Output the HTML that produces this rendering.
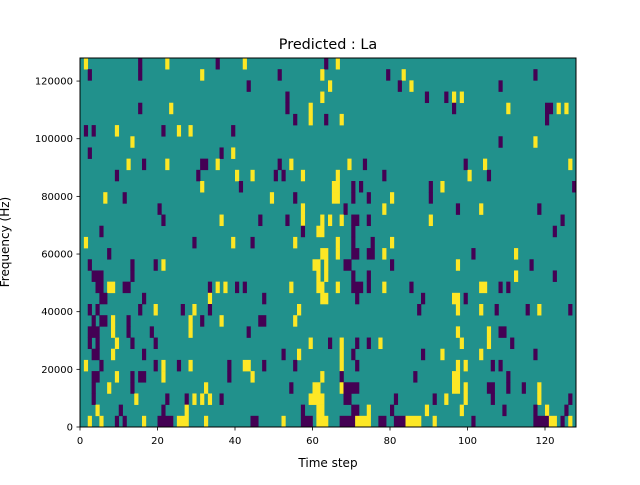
<!DOCTYPE html>
<html><head><meta charset="utf-8"><style>
body{margin:0;background:#fff;}
svg text{font-family:"DejaVu Sans","Liberation Sans",sans-serif;}
</style></head><body>
<svg id="chart" width="640" height="480" xmlns="http://www.w3.org/2000/svg">
<rect width="640" height="480" fill="#fff"/>
<text x="328" y="49" font-size="14.4" text-anchor="middle">Predicted : La</text>
<text x="328" y="467" font-size="12" text-anchor="middle">Time step</text>
<text transform="translate(9,242) rotate(-90)" font-size="12" text-anchor="middle">Frequency (Hz)</text>
<g id="cells"></g>
<g id="axes"></g>
</svg>
<script>
// time steps and frequency axis
const nTime = 128;
const nFreq = 33;
const freqMax = 128000;
const xTicks = [0,20,40,60,80,100,120];
const yTicks = [0,20000,40000,60000,80000,100000,120000];
// cells per frequency row (index 0 = top row). entries: p=purple(low), y=yellow(high), col or colStart-colEnd
const rowCells = [
"y1 p15 y22 p35 y42 p63 y66",
"p2 p15 y31 p51 y62 p79 y83 p117",
"p43 y64 p82 y85 p108",
"p53 y62 p89 p94 y96 y98",
"p15 y23 p53 y59 p96 y110 p120-121 y123 y125",
"p55 y59 p63 y67 p120",
"p1 p3 y9 p21 y25 y28 p39",
"y13 p108 y117",
"p2 p36 y39",
"y12 p16 y22 p31-32 y35 p51 y54 y69 p73 p99 y104 y126",
"p9 p30 y40 y44 p50 p52 y57 y66 p78 y100 p105",
"y31 p41 y65-66 p70 p72 p90 y93 p127",
"y6 p11 y49 p55 y65-66 p70 p74 y80 p90",
"p20 y57 p68 y78 p97 y103 p118",
"p21 y36 p46 p53 y57 y62 y64 y67 p70-71 p74 y90 p124",
"p5 p57 y61-62 p70 p122",
"y1 p29 y39 p44 y55 y66 p70 p75 y80",
"p7 y62-63 y66 p70-71 p74-75 y78 p101 y112",
"p2 p13 p19 y21 y60-61 y63 p68-69 p80 y97 p116",
"p3-5 p13 y61 y63 p70 p74 y112 p122",
"p4-5 y7-8 p11-12 p33 y35 y37 p40 p42 y54 y61-62 y66 p70-72 p74 y78 p85 y103-104 p108 p110",
"p5-6 p16 y33 p47 y62-63 p71 p88 y96-97 p99",
"p2 p4 p15 y19 p26 y29 p33 y56 p87 y97 y103 p107 p115 y118 p126",
"p3 p5-6 y8 p12 y28 p31 y36 p46-47 y55",
"p2-4 y8 p12 p18 y28 p43 y97 y105 p108-109",
"p2 p4 y9 p13 p19 y59 p64 y67 p71 p74 y77 y98 y105 p111",
"p3-4 y8 p16 p52 y56 y67 p70 p88 y93 y103 p117",
"y1 p5 p19 y21 p25 y28 p38 y42-43 p47 p55 y67 p71 y97 y99 p106 p108",
"p3-4 y9 p13 p15-16 y21 p38 y44 y62 p67 p86 y96-97 p110",
"p3 y7 p13 y32 p54 y60-61 y67 p68-71 y96-97 y99 p105-106 p110 p114 y118",
"p3 y14 p22 p27 y29 y31 y33 p36 y59-62 p68-69 p81 p91 y94 y99 p106 y118 p126",
"y4 p10 p21 y27 p57 y61-62 p70-71 y74 p80 y89 y98 p109 p117 y120 p125",
"y2 y5 p9 p11 y16 p20-23 y25-27 y32 p44-45 y52 p57-59 y61-63 p67-70 y71-74 p77-78 p81-83 y84-87 y91 p101 p117-120 y121-122 p124 y126"
];
const L=80,R=576,T=58,B=427;
const xs = t => L + t*(R-L)/nTime;
const ys = f => B - f*(B-T)/freqMax;
const rowY = r => T + r*(B-T)/nFreq;
const NS="http://www.w3.org/2000/svg";
const cg=document.getElementById('cells'), ag=document.getElementById('axes');
function mk(tag,attrs,parent){const e=document.createElementNS(NS,tag);for(const k in attrs)e.setAttribute(k,attrs[k]);parent.appendChild(e);return e;}
const bg=mk('rect',{x:L,y:T,width:R-L,height:B-T,fill:'#21918c'},cg);


rowCells.forEach((s,r)=>{
  s.split(' ').filter(Boolean).forEach(tok=>{
    const v=tok[0]; const pr=tok.slice(1).split('-').map(Number);
    const a=pr[0], b=pr.length>1?pr[1]:pr[0];
    const x0=xs(a), x1=xs(b+1), y0=rowY(r), y1=rowY(r+1);
    const c=mk('rect',{x:x0,y:y0,width:x1-x0+0.3,height:y1-y0+0.3,fill:v==='p'?'#440154':'#fde725'},cg);
    
    
  });
});
const fr=mk('rect',{x:L,y:T,width:R-L,height:B-T,fill:'none',stroke:'#000','stroke-width':1},ag);


xTicks.forEach(t=>{
  const x=xs(t);
  const tk=mk('line',{x1:x,x2:x,y1:B,y2:B+3.5,stroke:'#000','stroke-width':0.8},ag);
  
  
  const tx=mk('text',{x:x,y:B+17,'font-size':10,'text-anchor':'middle'},ag);
  tx.textContent=t;
  
  
});
yTicks.forEach(f=>{
  const y=ys(f);
  const tk=mk('line',{x1:L-3.5,x2:L,y1:y,y2:y,stroke:'#000','stroke-width':0.8},ag);
  
  
  const tx=mk('text',{x:L-7,y:y+3.5,'font-size':10,'text-anchor':'end'},ag);
  tx.textContent=f;
  
  
});
</script>
</body></html>
